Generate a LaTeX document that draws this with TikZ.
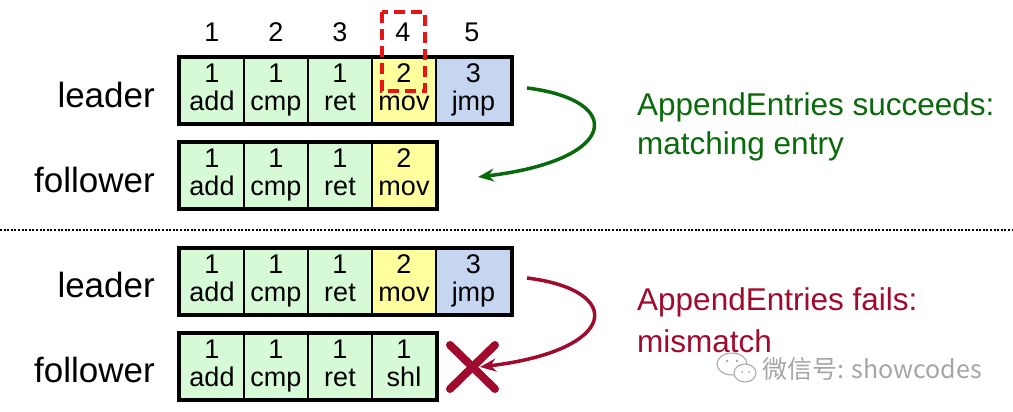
\documentclass[tikz,border=0pt]{standalone}
\usepackage{fontspec}
\setmainfont{Liberation Sans}
\newfontfamily\cjk{Noto Sans CJK SC}
\usetikzlibrary{arrows.meta}
\definecolor{cgreen}{RGB}{214,250,214}
\definecolor{cyellow}{RGB}{255,255,158}
\definecolor{cblue}{RGB}{199,214,240}
\definecolor{okgreen}{RGB}{10,105,10}
\definecolor{badred}{RGB}{160,10,45}
\definecolor{markred}{RGB}{235,20,20}
\definecolor{wmgray}{RGB}{165,165,165}
\newcommand\celltxt[2]{\rule[-6pt]{0pt}{24pt}#1\\\rule[-6pt]{0pt}{24pt}#2}
\tikzset{
  cell/.style={draw=black, line width=2pt, inner sep=0pt, minimum height=65pt,
    align=center, font=\fontsize{27}{28}\selectfont},
  rowframe/.style={draw=black, line width=4pt},
  rowlabel/.style={anchor=east, inner sep=0pt, font=\fontsize{35}{40}\selectfont},
  idx/.style={inner sep=0pt, font=\fontsize{27}{30}\selectfont},
  note/.style={anchor=west, inner sep=0pt, font=\fontsize{31.5}{36}\selectfont},
  curvearrow/.style={line width=3.5pt, -{Stealth[length=16pt,width=13pt]}},
}
\begin{document}
\begin{tikzpicture}[x=1pt,y=-1pt]
\useasboundingbox (0,0) rectangle (1013,412);

% index numbers
\node[idx] (i1) at (212,32) {1};
\node[idx] (i2) at (276,32) {2};
\node[idx] (i3) at (340,32) {3};
\node[idx] (i4) at (403,32) {4};
\node[idx] (i5) at (472,32) {5};

% ---- top leader
\node[rowlabel] (tl) at (155,95) {leader};
\node[cell, fill=cgreen, minimum width=64pt] (a1) at (212,90.5) {\celltxt{1}{add}};
\node[cell, fill=cgreen, minimum width=64pt] (a2) at (276,90.5) {\celltxt{1}{cmp}};
\node[cell, fill=cgreen, minimum width=64pt] (a3) at (340,90.5) {\celltxt{1}{ret}};
\node[cell, fill=cyellow, minimum width=64pt] (a4) at (404,90.5) {\celltxt{2}{mov}};
\node[cell, fill=cblue, minimum width=75pt] (a5) at (473.5,90.5) {\celltxt{3}{jmp}};
\draw[rowframe] (a1.north west) rectangle (a5.south east);

% red dashed highlight
\draw[markred, line width=4pt, dash pattern=on 11pt off 6pt] (382,12) rectangle (425,91);

% ---- top follower
\node[rowlabel] (tf) at (155,180) {follower};
\node[cell, fill=cgreen, minimum width=64pt] (b1) at (212,175.5) {\celltxt{1}{add}};
\node[cell, fill=cgreen, minimum width=64pt] (b2) at (276,175.5) {\celltxt{1}{cmp}};
\node[cell, fill=cgreen, minimum width=64pt] (b3) at (340,175.5) {\celltxt{1}{ret}};
\node[cell, fill=cyellow, minimum width=64pt] (b4) at (404,175.5) {\celltxt{2}{mov}};
\draw[rowframe] (b1.north west) rectangle (b4.south east);

% success arrow
\coordinate (gs) at (527,88);
\coordinate (ge) at (478,177);
\draw[curvearrow, okgreen] (gs) .. controls (625,100) and (620,160) .. (ge);
\node[note, text=okgreen] (gt1) at (637,107) {AppendEntries succeeds:};
\node[note, text=okgreen] (gt2) at (637,146) {matching entry};

% separator
\coordinate (sl) at (0,230);
\coordinate (sr) at (1013,230);
\draw[line width=2.2pt, dash pattern=on 2pt off 1.6pt] (sl) -- (sr);

% ---- bottom leader
\node[rowlabel] (bl) at (155,285) {leader};
\node[cell, fill=cgreen, minimum width=64pt] (c1) at (212,281) {\celltxt{1}{add}};
\node[cell, fill=cgreen, minimum width=64pt] (c2) at (276,281) {\celltxt{1}{cmp}};
\node[cell, fill=cgreen, minimum width=64pt] (c3) at (340,281) {\celltxt{1}{ret}};
\node[cell, fill=cyellow, minimum width=64pt] (c4) at (404,281) {\celltxt{2}{mov}};
\node[cell, fill=cblue, minimum width=75pt] (c5) at (473.5,281) {\celltxt{3}{jmp}};
\draw[rowframe] (c1.north west) rectangle (c5.south east);

% ---- bottom follower
\node[rowlabel] (bf) at (155,370) {follower};
\node[cell, fill=cgreen, minimum width=64pt] (d1) at (212,366) {\celltxt{1}{add}};
\node[cell, fill=cgreen, minimum width=64pt] (d2) at (276,366) {\celltxt{1}{cmp}};
\node[cell, fill=cgreen, minimum width=64pt] (d3) at (340,366) {\celltxt{1}{ret}};
\node[cell, fill=cgreen, minimum width=64pt] (d4) at (404,366) {\celltxt{1}{shl}};
\draw[rowframe] (d1.north west) rectangle (d4.south east);

% failure arrow and cross
\coordinate (rs) at (527,278);
\coordinate (re) at (480,367);
\draw[curvearrow, badred] (rs) .. controls (625,290) and (620,350) .. (re);
\draw[badred, line width=8pt, line cap=round] (450,345) -- (495,389);
\draw[badred, line width=8pt, line cap=round] (450,389) -- (495,345);
\node[note, text=badred] (rt1) at (637,302) {AppendEntries fails:};
\node[note, text=badred] (rt2) at (637,341) {mismatch};

% watermark
\draw[wmgray, line width=1pt, fill=white] (732,364) ellipse (15pt and 11pt);
\draw[wmgray, line width=1pt, fill=white] (745,373) ellipse (11pt and 9pt);
\fill[wmgray] (727,361) circle (1.3pt) (737,361) circle (1.3pt) (742,372) circle (1pt) (749,372) circle (1pt);
\node[anchor=west, inner sep=0pt, text=wmgray, font=\cjk\fontsize{25}{28}\selectfont] (wm) at (762,369) {微信号: showcodes};
\end{tikzpicture}
\end{document}
